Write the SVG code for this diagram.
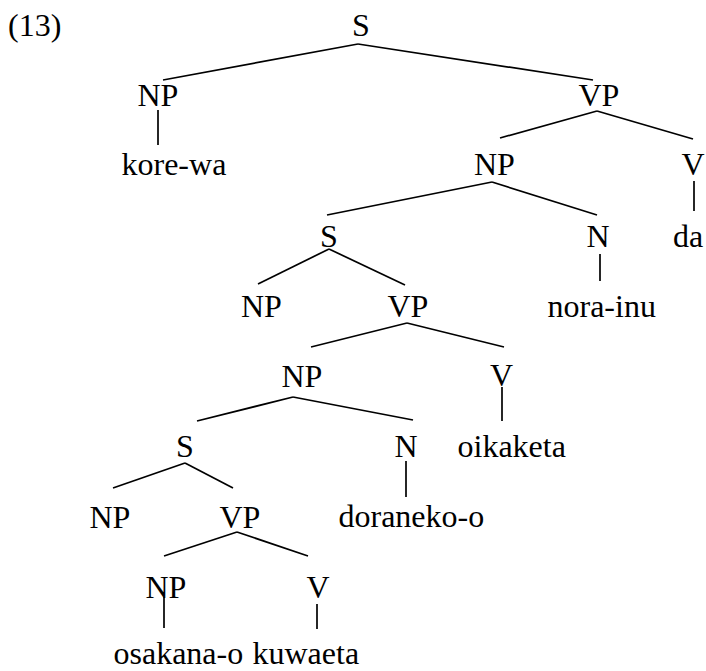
<svg xmlns="http://www.w3.org/2000/svg" width="706" height="671" viewBox="0 0 706 671">
  <style>
    .t text { font-size: 32px; fill: #000; }
    .c { text-anchor: middle; }
    #edges line { stroke: #000; stroke-width: 1.7; stroke-linecap: butt; }
  </style>
  <rect width="706" height="671" fill="#fff"/>

  <g class="t" font-family="'Liberation Serif', 'Times New Roman', 'DejaVu Serif', serif">
    <!-- example number -->
    <g id="label"><text x="8" y="36">(13)</text></g>

    <!-- tree nodes -->
    <g id="s1"><text class="c" x="361" y="36">S</text></g>
    <g id="np1"><text x="137.5" y="106">NP</text></g>
    <g id="vp1"><text x="578.5" y="106">VP</text></g>
    <g id="kore-wa"><text x="121.5" y="175">kore-wa</text></g>
    <g id="np2"><text x="474" y="175">NP</text></g>
    <g id="v1"><text class="c" x="693" y="175">V</text></g>
    <g id="s2"><text class="c" x="329" y="247">S</text></g>
    <g id="n1"><text class="c" x="598" y="247">N</text></g>
    <g id="da"><text x="673" y="247">da</text></g>
    <g id="np3"><text x="241" y="317">NP</text></g>
    <g id="vp3"><text x="387.5" y="317">VP</text></g>
    <g id="nora-inu"><text x="547.5" y="317">nora-inu</text></g>
    <g id="np4"><text x="281.5" y="387">NP</text></g>
    <g id="v2"><text class="c" x="501.5" y="386">V</text></g>
    <g id="s3"><text class="c" x="185" y="457">S</text></g>
    <g id="n2"><text class="c" x="406" y="457">N</text></g>
    <g id="oikaketa"><text x="457.5" y="457">oikaketa</text></g>
    <g id="np5"><text x="89.5" y="528">NP</text></g>
    <g id="vp5"><text x="219.5" y="528">VP</text></g>
    <g id="doraneko-o"><text x="338.5" y="527">doraneko-o</text></g>
    <g id="np6"><text x="145.5" y="598">NP</text></g>
    <g id="v3"><text class="c" x="318" y="598">V</text></g>
    <g id="osakana-o"><text x="113.5" y="664">osakana-o</text></g>
    <g id="kuwaeta"><text x="252.5" y="664">kuwaeta</text></g>
  </g>

  <!-- branches -->
  <g id="edges">
    <line x1="358" y1="44" x2="163" y2="80"/>
    <line x1="358" y1="44" x2="593" y2="80"/>
    <line x1="158" y1="110" x2="158" y2="145"/>
    <line x1="597" y1="111" x2="500" y2="138"/>
    <line x1="597" y1="111" x2="693" y2="139"/>
    <line x1="694" y1="181" x2="694" y2="211"/>
    <line x1="492" y1="182" x2="327" y2="215"/>
    <line x1="492" y1="182" x2="597" y2="215"/>
    <line x1="600" y1="254" x2="600" y2="281"/>
    <line x1="329" y1="249" x2="258" y2="284"/>
    <line x1="329" y1="249" x2="405" y2="285"/>
    <line x1="407" y1="323" x2="311" y2="347"/>
    <line x1="407" y1="323" x2="504" y2="347"/>
    <line x1="293" y1="397" x2="197" y2="421"/>
    <line x1="293" y1="397" x2="413" y2="420"/>
    <line x1="502" y1="387" x2="502" y2="421"/>
    <line x1="185" y1="463" x2="113" y2="488"/>
    <line x1="185" y1="463" x2="233" y2="488"/>
    <line x1="406" y1="461" x2="406" y2="497"/>
    <line x1="237" y1="532" x2="164" y2="556"/>
    <line x1="237" y1="532" x2="308" y2="556"/>
    <line x1="164" y1="597" x2="164" y2="628"/>
    <line x1="317" y1="604" x2="317" y2="629"/>
  </g>
</svg>
